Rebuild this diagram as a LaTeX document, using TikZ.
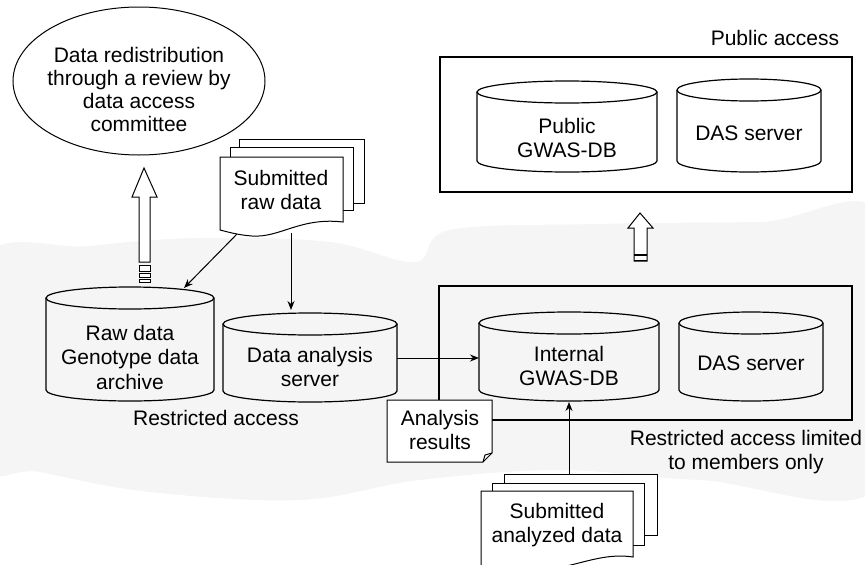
\documentclass[tikz,border=0pt]{standalone}
\usepackage{fontspec}
\setmainfont{Liberation Sans}
\usetikzlibrary{arrows.meta}
\newcommand{\mycyl}[4]{%
  \draw (#1,#3) -- (#1,#4) arc[start angle=180, end angle=0, x radius={(#2-#1)/2}, y radius=11] -- (#2,#3);
  \draw ({(#1+#2)/2},#3) ellipse [x radius={(#2-#1)/2}, y radius=11];
}
\begin{document}
\begin{tikzpicture}[x=1pt,y=-1pt, line width=1.2pt,
  lbl/.style={font=\fontsize{21}{24.5}\selectfont, align=center, inner sep=0pt},
  arr/.style={-{Stealth[length=9pt,width=7pt]}, line width=1pt},
  hollow/.style={draw, fill=white, line width=1pt},
  paper/.style={draw, fill=white, line width=1pt}]
\useasboundingbox (0,0) rectangle (865,565);
% light stippled band
\fill[black!4] plot[smooth cycle, tension=0.6] coordinates {(-20,262) (90,246) (200,238) (330,242) (415,262) (450,230) (600,224) (760,222) (885,220) (885,482) (700,480) (560,470) (420,480) (300,500) (150,492) (40,472) (-20,458)};

% ellipse
\draw[line width=1pt] (139,81) ellipse [x radius=126, y radius=74];
\node[lbl, font=\fontsize{21}{23}\selectfont] (redis) at (139,89) {Data redistribution\\through a review by\\data access\\committee};

% big hollow arrow
\draw[hollow] (144,168) -- (157,197) -- (150,197) -- (150,262) -- (139,262) -- (139,197) -- (132,197) -- cycle;
\draw[hollow] (139,265) rectangle (150,271);
\draw[hollow] (139,273) rectangle (150,277);
\draw[hollow] (139,279) rectangle (150,282);

% boxes
\draw (440,57) rectangle (852,192);
\draw (439,286) rectangle (852,420);
\node[lbl] (pub) at (775,38) {Public access};
\node[lbl] (restr) at (746,452) {Restricted access limited\\to members only};

% cylinders
\mycyl{46}{214}{298}{390}
\node[lbl] (raw) at (130,357) {Raw data\\Genotype data\\archive};
\mycyl{223}{397}{324}{391}
\node[lbl] (das) at (310,367) {Data analysis\\server};
\mycyl{479}{659}{323}{390}
\node[lbl] (internal) at (569,366) {Internal\\GWAS-DB};
\mycyl{679}{823}{323}{390}
\node[lbl] (das2) at (751,363) {DAS server};
\mycyl{477}{657}{92}{161}
\node[lbl] (public) at (567,138) {Public\\GWAS-DB};
\mycyl{677}{821}{90}{161}
\node[lbl] (das3) at (749,133) {DAS server};

% small hollow arrow
\draw[hollow] (640,213) -- (653,228) -- (647,228) -- (647,261) -- (634,261) -- (634,228) -- (628,228) -- cycle;
\draw[line width=1.6pt] (634,255) -- (647,255);
\draw[line width=1.6pt] (634,260.5) -- (647,260.5);

\node[lbl] (restrl) at (216,418) {Restricted access};

% submitted raw data stack
\draw[paper] (239,139) rectangle (364,203);
\draw[paper] (230,147) rectangle (353,210);
\draw[paper] (220,157) -- (343,157) -- (343,222) .. controls (300,217) and (280,238) .. (252,236) .. controls (238,235) and (228,232) .. (220,230) -- cycle;
\node[lbl] (subraw) at (281,190) {Submitted\\raw data};

% analysis results
\draw[paper] (387,400) -- (492,400) -- (492,453) -- (483,462) -- (387,462) -- cycle;
\draw[line width=1pt] (483,462) -- (485,455) -- (492,453);
\node[lbl] (ares) at (440,430) {Analysis\\results};

% submitted analyzed data stack
\draw[paper] (504,474) rectangle (657,535);
\draw[paper] (492,483) rectangle (644,545);
\draw[paper] (481,491) -- (633,491) -- (633,557) .. controls (600,552) and (575,568) .. (540,570) -- (481,572) -- cycle;
\node[lbl] (subana) at (557,525) {Submitted\\analyzed data};

% connector end points
\coordinate (rawdocA) at (237,234);
\coordinate (rawtop) at (184,288);
\coordinate (rawdocB) at (291,233);
\coordinate (dastop) at (291,310);
\coordinate (dasright) at (397,358);
\coordinate (intleft) at (479,358);
\coordinate (anatop) at (569,474);
\coordinate (intbot) at (569,402);

\draw[arr] (rawdocA) -- (rawtop);
\draw[arr] (rawdocB) -- (dastop);
\draw[arr] (dasright) -- (intleft);
\draw[arr] (anatop) -- (intbot);
\end{tikzpicture}
\end{document}
